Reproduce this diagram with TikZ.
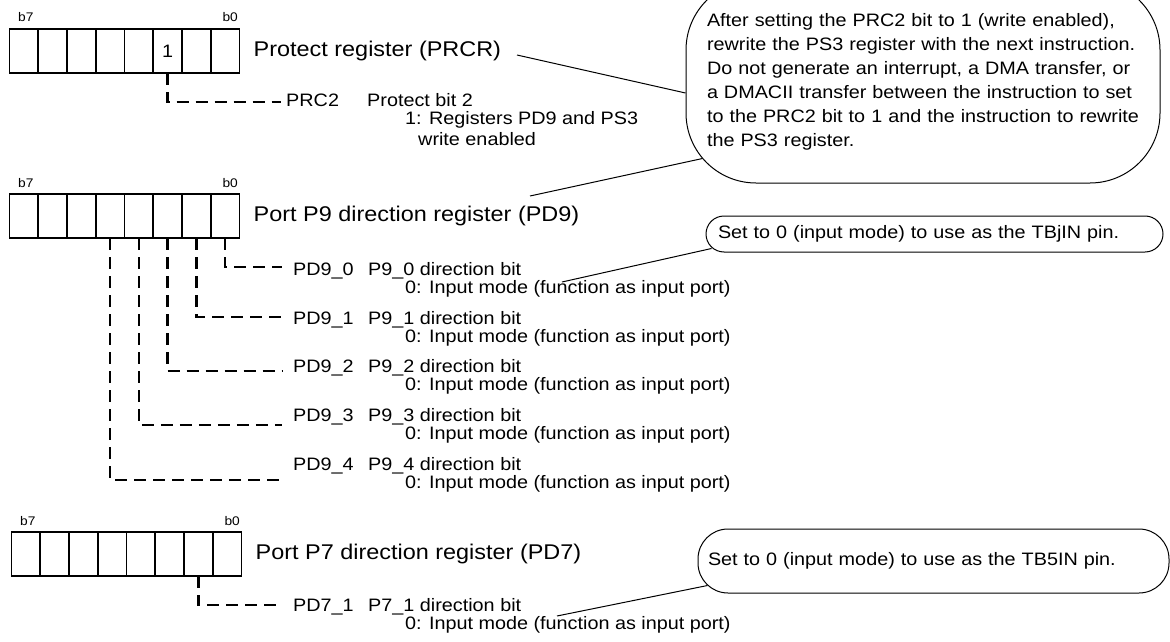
\documentclass[tikz,border=0pt]{standalone}
\usepackage{fontspec}
\setmainfont[FakeStretch=1.1]{Liberation Sans}
\usetikzlibrary{positioning}

\tikzset{
  cell/.style={draw, line width=1.8pt, minimum width=28.75pt, minimum height=44pt,
    inner sep=0pt, outer sep=0pt},
  regtitle/.style={anchor=west, inner sep=0pt, font=\fontsize{21.3}{24}\selectfont},
  bitlbl/.style={inner sep=0pt, font=\fontsize{12.5}{14}\selectfont},
  bittext/.style={anchor=west, inner sep=0pt, font=\fontsize{18}{18.5}\selectfont},
  bitline/.style={line width=2.5pt, dash pattern=on 12pt off 7pt},
  note/.style={draw, line width=1pt, align=left, inner ysep=0pt,
    font=\fontsize{18}{24}\selectfont},
  pointer/.style={line width=1pt}
}

\begin{document}
\begin{tikzpicture}[x=1pt,y=-1pt]

    \useasboundingbox (0,0) rectangle (1170,642);
    \clip (0,0) rectangle (1170,642);

    % protect register
    \foreach \b in {0,...,7}
        \node[cell] (prcr\b) at ({9.5+28.75*(7.5-\b)},51) {};
    \node[bittext, anchor=center] (prcrval) at (prcr2) {1};
    \node[bitlbl, anchor=base west] (prcrb7) at (18,22) {b7};
    \node[bitlbl, anchor=base east] (prcrb0) at (238,22) {b0};
    \node[regtitle, right=14pt of prcr0] (prcrtitle) {Protect register (PRCR)};

    \coordinate (prc2end) at (281,102);
    \draw[bitline] (prcr2.south) |- (prc2end);
    \node[bittext] (prc2name) at (286,100) {PRC2};
    \node[bittext] (prc2desc) at (367,100) {Protect bit 2};
    \node[bittext] (prc2val) at (405,120) {1: Registers PD9 and PS3};
    \node[bittext] (prc2val2) at (418,139) {write enabled};

    % port P9 direction register
    \foreach \b in {0,...,7}
        \node[cell] (pd9c\b) at ({9.5+28.75*(7.5-\b)},216) {};
    \node[bitlbl, anchor=base west] (pd9b7) at (18,187) {b7};
    \node[bitlbl, anchor=base east] (pd9b0) at (238,187) {b0};
    \node[regtitle, right=14pt of pd9c0] (pd9title) {Port P9 direction register (PD9)};

    \foreach \b/\ly/\dy in {0/271/267, 1/320/317, 2/368/371, 3/417/425, 4/466/480} {
        \coordinate (pd9end\b) at (282,\dy);
        \draw[bitline] (pd9c\b.south) |- (pd9end\b);
        \node[bittext] (pd9name\b) at (293,\ly) {PD9\_\b};
        \node[bittext] (pd9desc\b) at (368,\ly) {P9\_\b{} direction bit};
        \node[bittext] (pd9val\b) at (405,{\ly+18}) {0: Input mode (function as input port)};
    }

    % port P7 direction register
    \foreach \b in {0,...,7}
        \node[cell] (pd7c\b) at ({11.5+28.75*(7.5-\b)},554) {};
    \node[bitlbl, anchor=base west] (pd7b7) at (20,525) {b7};
    \node[bitlbl, anchor=base east] (pd7b0) at (240,525) {b0};
    \node[regtitle, right=14pt of pd7c0] (pd7title) {Port P7 direction register (PD7)};

    \coordinate (pd7end) at (283,605);
    \draw[bitline] (pd7c1.south) |- (pd7end);
    \node[bittext] (pd7name) at (293,607) {PD7\_1};
    \node[bittext] (pd7desc) at (368,607) {P7\_1 direction bit};
    \node[bittext] (pd7val) at (405,625) {0: Input mode (function as input port)};

    % notes
    \node[note, minimum width=474pt, minimum height=203pt, text width=448pt,
        inner xsep=13pt, rounded corners=70pt] (note1) at (923,81.5)
        {\hspace*{8pt}After setting the PRC2 bit to 1 (write enabled),\\
         \hspace*{8pt}rewrite the PS3 register with the next instruction.\\
         \hspace*{8pt}Do not generate an interrupt, a DMA transfer, or\\
         \hspace*{8pt}a DMACII transfer between the instruction to set\\
         \hspace*{8pt}to the PRC2 bit to 1 and the instruction to rewrite\\
         \hspace*{8pt}the PS3 register.};
    \node[note, minimum height=36pt, text width=433pt, inner xsep=12pt,
        rounded corners=18pt] (note2) at (934.5,234)
        {Set to 0 (input mode) to use as the TBjIN pin.};
    \node[note, minimum height=64pt, text width=451pt, inner xsep=10pt,
        rounded corners=30pt] (note3) at (933.5,561)
        {Set to 0 (input mode) to use as the TB5IN pin.};

    \coordinate (prcrtip) at (517,55);
    \draw[pointer] (prcrtip) -- ([yshift=-11.5pt]note1.west);
    \coordinate (pd9tip) at (530,196);
    \draw[pointer] (pd9tip) -- ([shift={(17pt,25pt)}]note1.south west);
    \coordinate (pd9bittip) at (562,282);
    \draw[pointer] (pd9bittip) -- ([shift={(6pt,4pt)}]note2.south west);
    \coordinate (pd7tip) at (557,616);
    \draw[pointer] (pd7tip) -- ([shift={(10pt,8pt)}]note3.south west);

\end{tikzpicture}
\end{document}
